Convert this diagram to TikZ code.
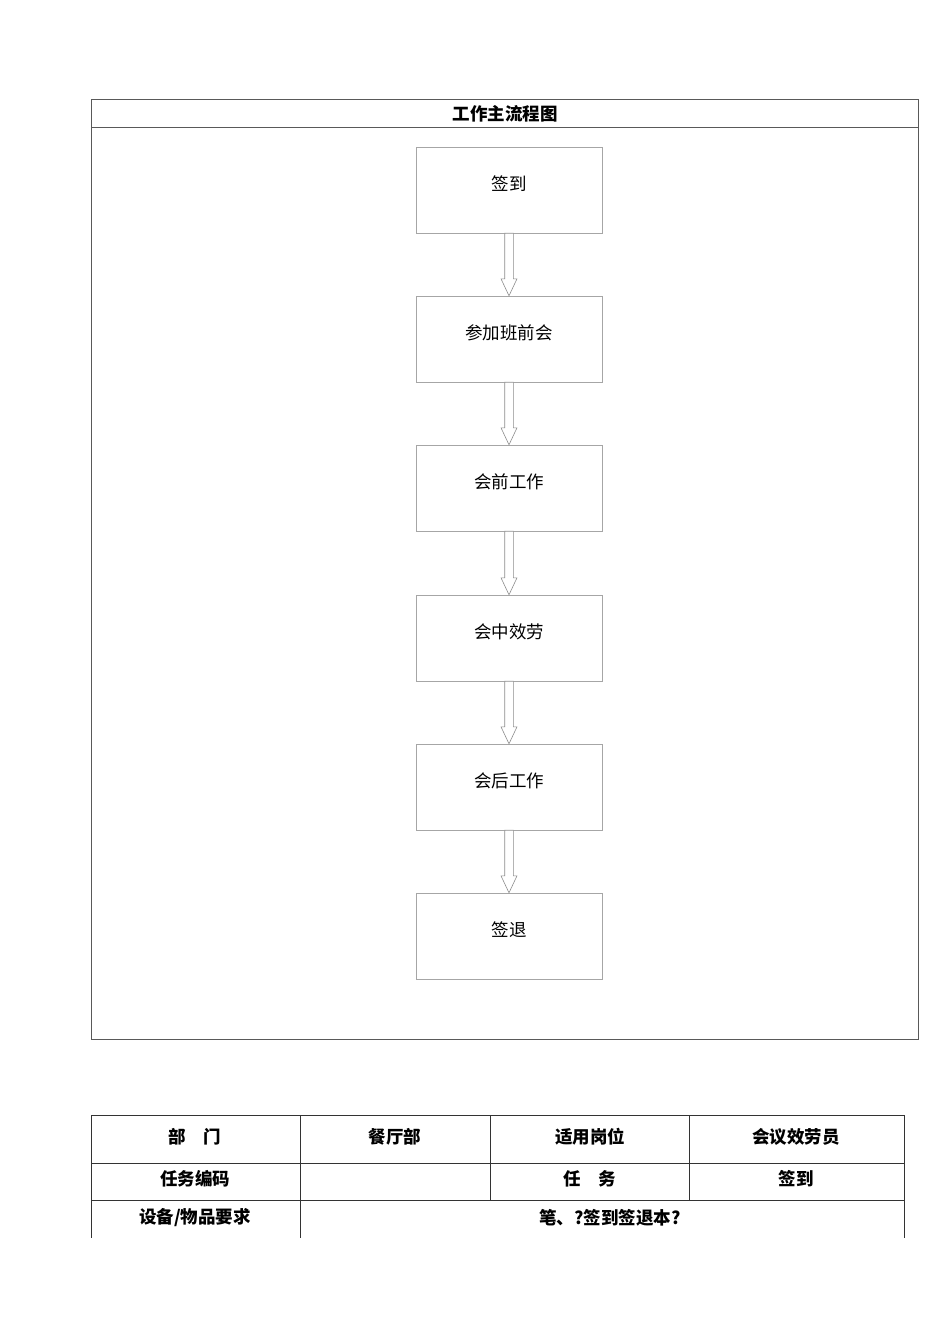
\documentclass[tikz,border=0pt]{standalone}
\usepackage{fontspec}
\setmainfont{Noto Sans CJK SC}
\usetikzlibrary{arrows,shapes}
\tikzstyle{stepbox}=[rectangle,draw=black!35,minimum width=186pt,minimum height=86pt,inner sep=0pt,text depth=14pt,font=\fontsize{17.5}{20}\selectfont]
\tikzstyle{frame}=[draw=black!65,line width=1pt]
\tikzstyle{grid}=[draw=black!80,line width=0.9pt]
\tikzstyle{blockarrow}=[draw=black!45,fill=white,line width=0.6pt,line join=miter]
\tikzstyle{cell}=[font=\fontsize{17.5}{20}\selectfont\bfseries]

\begin{document}
\begin{tikzpicture}[x=1pt,y=-1pt]

    \useasboundingbox (0,0) rectangle (950,1344);

    % outer frame with title row
    \draw[frame] (91,99) rectangle (918,1039);
    \draw[frame] (91,127) -- (918,127);
    \node[cell] (title) at (505,114) {工作主流程图};

     \foreach \y/\name/\txt in {190/qd/签到, 339/cjbqh/参加班前会, 488/hqgz/会前工作,
                                638/hzxl/会中效劳, 787/hhgz/会后工作, 936/qt/签退}
        \node[stepbox] (\name) at (509,\y) {\txt};

    \foreach \source/ \dest in {qd/cjbqh, cjbqh/hqgz, hqgz/hzxl, hzxl/hhgz, hhgz/qt}
        \draw[blockarrow] ([xshift=-4.3]\source.south) -- ([xshift=-4.3,yshift=17]\dest.north)
            -- ([xshift=-8,yshift=17]\dest.north) -- (\dest.north)
            -- ([xshift=8,yshift=17]\dest.north) -- ([xshift=4.3,yshift=17]\dest.north)
            -- ([xshift=4.3]\source.south) -- cycle;

    % task table
    \draw[grid] (91,1115) -- (904,1115);
    \draw[grid] (91,1163) -- (904,1163);
    \draw[grid] (91,1200) -- (904,1200);
    \foreach \x in {91,300,904}
        \draw[grid] (\x,1115) -- (\x,1238);
    \foreach \x in {490,689}
        \draw[grid] (\x,1115) -- (\x,1200);

    \foreach \x/\y/\name/\txt in {195/1137/bm/{部\hspace{1em}门}, 395/1137/ctb/餐厅部,
                                  590/1137/sygw/适用岗位, 796/1137/hyxly/会议效劳员,
                                  195/1179/rwbm/任务编码, 590/1179/rw/{任\hspace{1em}务},
                                  796/1179/rwqd/签到, 195/1218/sbyq/{设备/物品要求},
                                  610/1218/sbnr/{笔、?签到签退本?}}
        \node[cell] (\name) at (\x,\y) {\txt};

\end{tikzpicture}
\end{document}
